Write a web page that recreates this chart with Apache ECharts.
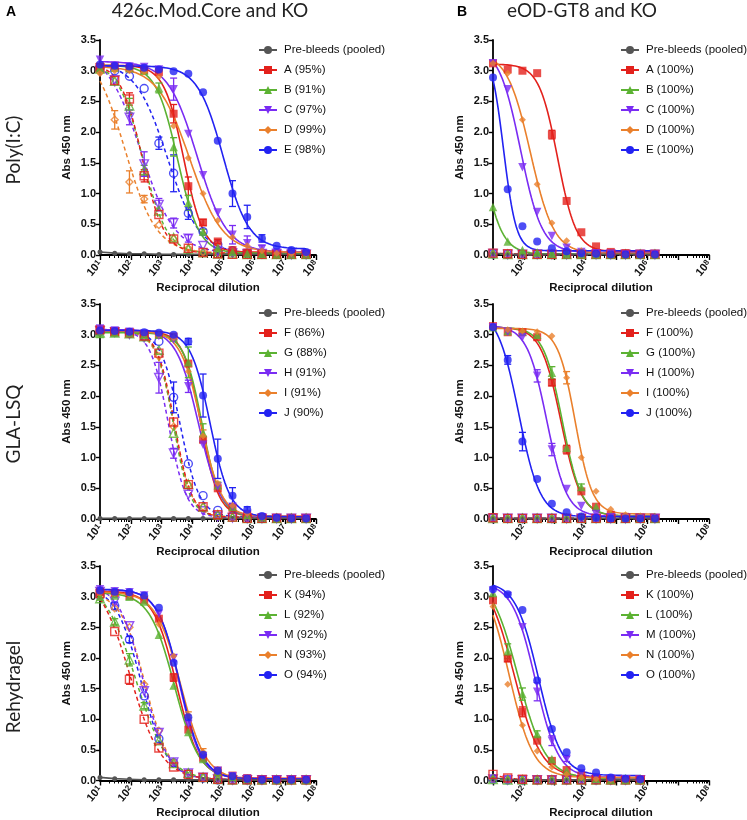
<!DOCTYPE html>
<html><head><meta charset="utf-8">
<script src="https://cdn.jsdelivr.net/npm/echarts@6/dist/echarts.min.js"></script>
<style>html,body{margin:0;padding:0;background:#fff}#c{width:747px;height:820px}</style>
</head><body><div id="c"></div>
<script>
// ---------------- DATA ----------------
const dilutions = [10,30,90,270,810,2430,7290,21870,65610,196830,590490,1771470,5314410,15943230,47829690];
const preName = 'Pre-bleeds (pooled)';
const xExpLeft = [1,2,3,4,5,6,7,8];
const xExpRight = [2,4,6,8];
const yTicks = [0,0.5,1,1.5,2,2.5,3,3.5];

// Panel 1: Poly(I:C), 426c.Mod.Core and KO
const polyCoreNames = ['A (95%)','B (91%)','C (97%)','D (99%)','E (98%)'];
const polyCorePre = [0.05,0.03,0.02,0.02,0.01,0.01,0.01,0.01,0.01,0.01,0.01,0.01,0.01,0.01,0.01];
const polyCoreA = [3.07,3.07,3.04,3.01,2.98,2.30,1.12,0.53,0.22,0.08,0.04,0.02,0.01,0.01,0.01];
const polyCoreB = [3.05,3.05,3.04,3.00,2.72,1.76,0.85,0.38,0.12,0.05,0.02,0.02,0.01,0.01,0.01];
const polyCoreC = [3.18,3.08,3.07,3.06,3.02,2.70,1.97,1.30,0.69,0.33,0.19,0.10,0.04,0.02,0.02];
const polyCoreD = [2.96,3.00,3.00,2.98,2.90,2.10,1.58,1.00,0.56,0.29,0.15,0.07,0.03,0.02,0.02];
const polyCoreE = [3.10,3.08,3.07,3.05,3.02,2.99,2.95,2.65,1.86,1.00,0.62,0.27,0.15,0.08,0.05];
const polyCoreAKO = [3.05,2.84,2.54,1.29,0.66,0.26,0.11,0.04,0.02,0.01,0.01,0.01,0.01,0.01,0.01];
const polyCoreBKO = [3.03,2.83,2.43,1.38,0.72,0.28,0.10,0.04,0.02,0.02,0.01,0.01,0.01,0.01,0.01];
const polyCoreCKO = [3.00,2.85,2.24,1.48,0.82,0.52,0.27,0.15,0.06,0.03,0.02,0.02,0.02,0.01,0.01];
const polyCoreDKO = [2.97,2.20,1.19,0.91,0.49,0.26,0.11,0.05,0.03,0.02,0.02,0.01,0.01,0.01,0.01];
const polyCoreEKO = [3.05,3.00,2.91,2.71,1.82,1.33,0.68,0.38,0.17,0.07,0.03,0.02,0.02,0.01,0.01];
const polyCoreErrA = [0,0,0,0,0,0.15,0.15,0.05,0.03,0,0,0,0,0,0];
const polyCoreErrB = [0,0,0,0,0.08,0.15,0.12,0.04,0,0,0,0,0,0,0];
const polyCoreErrC = [0,0,0,0,0,0.18,0,0,0,0.15,0.12,0.06,0,0,0];
const polyCoreErrE = [0,0,0,0,0,0,0,0,0,0.21,0.19,0.06,0,0,0];
const polyCoreErrAKO = [0,0,0.1,0.1,0,0,0,0,0,0,0,0,0,0,0];
const polyCoreErrBKO = [0,0,0.12,0.08,0,0,0,0,0,0,0,0,0,0,0];
const polyCoreErrCKO = [0,0,0.12,0.2,0.1,0.08,0.06,0,0,0,0,0,0,0,0];
const polyCoreErrDKO = [0,0.15,0.18,0.06,0,0,0,0,0,0,0,0,0,0,0];
const polyCoreErrEKO = [0,0,0,0,0.1,0.3,0.1,0,0,0,0,0,0,0,0];

// Panel 2: Poly(I:C), eOD-GT8 and KO
const polyGT8Names = ['A (100%)','B (100%)','C (100%)','D (100%)','E (100%)'];
const polyGT8Pre = [0.03,0.01,0.01,0.01,0.01,0.01,0.01,0.01,0.01,0.01,0.01,0.01];
const polyGT8A = [3.12,3.02,3.00,2.96,1.96,0.88,0.37,0.14,0.05,0.03,0.02,0.02];
const polyGT8B = [0.78,0.22,0.08,0.04,0.02,0.01,0.01,0.01,0.01,0.01,0.01,0.01];
const polyGT8C = [3.12,2.70,1.43,0.70,0.31,0.12,0.05,0.03,0.02,0.01,0.01,0.01];
const polyGT8D = [3.12,2.96,2.20,1.15,0.52,0.23,0.07,0.03,0.02,0.01,0.01,0.01];
const polyGT8E = [2.89,1.07,0.47,0.22,0.11,0.06,0.03,0.02,0.01,0.01,0.01,0.01];
const polyGT8AKO = [0.03,0.02,0.01,0.01,0.01,0.01,0.01,0.01,0.01,0.01,0.01,0.01];
const polyGT8BKO = [0.02,0.01,0.01,0.01,0.01,0.01,0.01,0.01,0.01,0.01,0.01,0.01];
const polyGT8CKO = [0.02,0.01,0.01,0.01,0.01,0.01,0.01,0.01,0.01,0.01,0.01,0.01];
const polyGT8DKO = [0.02,0.01,0.01,0.01,0.01,0.01,0.01,0.01,0.01,0.01,0.01,0.01];
const polyGT8EKO = [0.02,0.01,0.01,0.01,0.01,0.01,0.01,0.01,0.01,0.01,0.01,0.01];
const polyGT8ErrA = [0,0,0,0,0.07,0,0,0,0,0,0,0];

// Panel 3: GLA-LSQ, 426c.Mod.Core and KO
const glaCoreNames = ['F (86%)','G (88%)','H (91%)','I (91%)','J (90%)'];
const glaCorePre = [0.01,0.01,0.01,0.01,0.01,0.01,0.01,0.01,0.01,0.01,0.01,0.01,0.01,0.01,0.01];
const glaCoreF = [3.08,3.05,3.04,3.01,3.00,2.97,2.53,1.29,0.50,0.18,0.07,0.03,0.02,0.01,0.01];
const glaCoreG = [3.01,3.03,3.03,3.00,3.00,2.95,2.55,1.40,0.55,0.20,0.07,0.03,0.01,0.01,0.01];
const glaCoreH = [3.10,3.07,3.05,3.02,2.98,2.92,2.16,1.21,0.53,0.20,0.08,0.03,0.01,0.01,0.01];
const glaCoreI = [3.05,3.05,3.04,3.02,3.00,2.95,2.40,1.35,0.58,0.22,0.09,0.04,0.02,0.02,0.02];
const glaCoreJ = [3.07,3.06,3.05,3.04,3.03,3.00,2.89,2.01,0.98,0.38,0.15,0.05,0.02,0.01,0.01];
const glaCoreFKO = [3.08,3.05,3.03,2.98,2.70,1.58,0.56,0.20,0.07,0.03,0.01,0.01,0.01,0.01,0.01];
const glaCoreGKO = [3.03,3.03,3.02,2.97,2.75,1.40,0.57,0.20,0.07,0.03,0.01,0.01,0.01,0.01,0.01];
const glaCoreHKO = [3.06,3.04,3.01,2.95,2.30,1.07,0.40,0.13,0.04,0.02,0.01,0.01,0.01,0.01,0.01];
const glaCoreIKO = [3.05,3.04,3.02,2.96,2.65,1.50,0.56,0.20,0.07,0.03,0.01,0.01,0.01,0.01,0.01];
const glaCoreJKO = [3.05,3.04,3.02,2.97,2.89,1.98,0.90,0.38,0.14,0.05,0.02,0.01,0.01,0.01,0.01];
const glaCoreErrG = [0,0,0,0,0,0,0.25,0.15,0.05,0,0,0,0,0,0];
const glaCoreErrH = [0,0,0,0,0,0,0.1,0,0,0,0,0,0,0,0];
const glaCoreErrI = [0,0,0,0,0,0,0,0.1,0,0,0,0,0,0,0];
const glaCoreErrJ = [0,0,0,0,0,0,0.05,0.35,0.32,0.13,0.05,0,0,0,0];
const glaCoreErrHKO = [0,0,0,0,0.25,0.08,0,0,0,0,0,0,0,0,0];
const glaCoreErrJKO = [0,0,0,0,0,0.25,0,0,0,0,0,0,0,0,0];

// Panel 4: GLA-LSQ, eOD-GT8 and KO
const glaGT8Names = ['F (100%)','G (100%)','H (100%)','I (100%)','J (100%)'];
const glaGT8Pre = [0.01,0.01,0.01,0.01,0.01,0.01,0.01,0.01,0.01,0.01,0.01,0.01];
const glaGT8F = [3.14,3.04,3.04,2.96,2.22,1.13,0.45,0.20,0.07,0.03,0.02,0.01];
const glaGT8G = [3.12,3.06,3.05,3.00,2.38,1.16,0.52,0.20,0.07,0.03,0.02,0.01];
const glaGT8H = [3.12,3.05,2.96,2.33,1.13,0.49,0.21,0.08,0.03,0.02,0.01,0.01];
const glaGT8I = [3.12,3.08,3.06,3.05,2.98,2.30,1.00,0.45,0.16,0.07,0.05,0.03];
const glaGT8J = [3.12,2.59,1.26,0.65,0.25,0.11,0.04,0.02,0.01,0.01,0.01,0.01];
const glaGT8FKO = [0.02,0.01,0.01,0.01,0.01,0.01,0.01,0.01,0.01,0.01,0.01,0.01];
const glaGT8GKO = [0.01,0.01,0.01,0.01,0.01,0.01,0.01,0.01,0.01,0.01,0.01,0.01];
const glaGT8HKO = [0.01,0.01,0.01,0.01,0.01,0.01,0.01,0.01,0.01,0.01,0.01,0.01];
const glaGT8IKO = [0.01,0.01,0.01,0.01,0.01,0.01,0.01,0.01,0.01,0.01,0.01,0.01];
const glaGT8JKO = [0.02,0.01,0.01,0.01,0.01,0.01,0.01,0.01,0.01,0.01,0.01,0.01];
const glaGT8ErrF = [0,0,0,0,0.05,0.07,0,0,0,0,0,0];
const glaGT8ErrG = [0,0,0,0,0.1,0,0.05,0,0,0,0,0];
const glaGT8ErrH = [0,0,0,0.1,0.1,0,0,0,0,0,0,0];
const glaGT8ErrI = [0,0,0,0,0,0.1,0,0,0,0,0,0];
const glaGT8ErrJ = [0,0.07,0.15,0,0,0,0,0,0,0,0,0];

// Panel 5: Rehydragel, 426c.Mod.Core and KO
const rehyCoreNames = ['K (94%)','L (92%)','M (92%)','N (93%)','O (94%)'];
const rehyCorePre = [0.05,0.03,0.02,0.01,0.01,0.01,0.01,0.01,0.01,0.01,0.01,0.01,0.01,0.01,0.01];
const rehyCoreK = [3.08,3.06,3.01,2.95,2.64,1.68,0.83,0.37,0.16,0.08,0.04,0.02,0.01,0.01,0.01];
const rehyCoreL = [3.00,3.02,3.00,2.92,2.38,1.55,0.79,0.35,0.14,0.06,0.03,0.01,0.01,0.01,0.01];
const rehyCoreM = [3.12,3.09,3.07,3.02,2.72,2.00,0.92,0.40,0.16,0.07,0.03,0.01,0.01,0.01,0.01];
const rehyCoreN = [3.06,3.05,3.03,3.00,2.55,2.03,1.07,0.47,0.18,0.08,0.04,0.01,0.01,0.01,0.01];
const rehyCoreO = [3.10,3.08,3.07,3.02,2.82,1.92,1.03,0.42,0.16,0.07,0.03,0.01,0.01,0.01,0.01];
const rehyCoreKKO = [3.05,2.43,1.65,1.00,0.53,0.22,0.10,0.05,0.02,0.01,0.01,0.01,0.01,0.01,0.01];
const rehyCoreLKO = [2.97,2.59,1.97,1.22,0.65,0.28,0.12,0.05,0.02,0.01,0.01,0.01,0.01,0.01,0.01];
const rehyCoreMKO = [3.08,2.92,2.52,1.46,0.78,0.30,0.12,0.05,0.02,0.01,0.01,0.01,0.01,0.01,0.01];
const rehyCoreNKO = [3.00,2.81,2.50,1.57,0.81,0.30,0.12,0.05,0.02,0.01,0.01,0.01,0.01,0.01,0.01];
const rehyCoreOKO = [3.02,2.85,2.30,1.38,0.68,0.29,0.11,0.04,0.01,0.01,0.01,0.01,0.01,0.01,0.01];
const rehyCoreErrK = [0,0,0,0,0,0.06,0,0,0,0,0,0,0,0,0];
const rehyCoreErrM = [0,0,0,0,0,0.05,0,0,0,0,0,0,0,0,0];
const rehyCoreErrN = [0,0,0,0,0,0,0.05,0.05,0,0,0,0,0,0,0];
const rehyCoreErrKKO = [0,0,0.08,0,0,0,0,0,0,0,0,0,0,0,0];
const rehyCoreErrLKO = [0,0.05,0.1,0.05,0,0,0,0,0,0,0,0,0,0,0];
const rehyCoreErrOKO = [0,0.06,0.05,0,0,0,0,0,0,0,0,0,0,0,0];

// Panel 6: Rehydragel, eOD-GT8 and KO
const rehyGT8Names = ['K (100%)','L (100%)','M (100%)','N (100%)','O (100%)'];
const rehyGT8Pre = [0.04,0.02,0.01,0.01,0.01,0.01,0.01,0.01,0.01,0.01,0.01];
const rehyGT8K = [2.94,1.99,1.12,0.65,0.32,0.17,0.08,0.04,0.02,0.01,0.01];
const rehyGT8L = [3.06,2.11,1.41,0.76,0.35,0.16,0.07,0.03,0.01,0.01,0.01];
const rehyGT8M = [3.10,3.01,2.50,1.45,0.65,0.35,0.12,0.05,0.03,0.02,0.01];
const rehyGT8N = [2.84,1.57,0.90,0.48,0.22,0.10,0.05,0.03,0.01,0.01,0.01];
const rehyGT8O = [3.12,3.04,2.78,1.63,0.84,0.46,0.20,0.13,0.05,0.03,0.02];
const rehyGT8KKO = [0.10,0.04,0.02,0.01,0.01,0.01,0.01,0.01,0.01,0.01,0.01];
const rehyGT8LKO = [0.02,0.01,0.01,0.01,0.01,0.01,0.01,0.01,0.01,0.01,0.01];
const rehyGT8MKO = [0.02,0.01,0.01,0.01,0.01,0.01,0.01,0.01,0.01,0.01,0.01];
const rehyGT8NKO = [0.02,0.01,0.01,0.01,0.01,0.01,0.01,0.01,0.01,0.01,0.01];
const rehyGT8OKO = [0.02,0.01,0.01,0.01,0.01,0.01,0.01,0.01,0.01,0.01,0.01];
const rehyGT8ErrK = [0,0.05,0.08,0,0,0,0,0,0,0,0,0];
const rehyGT8ErrL = [0,0.12,0.1,0.05,0,0,0,0,0,0,0,0];
const rehyGT8ErrM = [0,0,0,0.15,0.08,0.04,0,0,0,0,0,0];

// ---------------- STYLE / LAYOUT ----------------
const colors = ['#E3211C','#5CB233','#7A2CF3','#EA802C','#2222F2'];
const grey = '#555555';
const symbols = ['rect','triangle','path://M0,0L10,0L5,10Z','diamond','circle'];
const symSizes = [8,8.5,8.5,7,8];
const FONT = 'Liberation Sans, Arial, Helvetica, sans-serif';

const panels = [
  {left:100, top:40, height:215, legLeft:258, legTop:43, exps:xExpLeft,
   names:polyCoreNames, pre:polyCorePre, solid:[polyCoreA,polyCoreB,polyCoreC,polyCoreD,polyCoreE],
   ko:[polyCoreAKO,polyCoreBKO,polyCoreCKO,polyCoreDKO,polyCoreEKO],
   err:[polyCoreErrA,polyCoreErrB,polyCoreErrC,null,polyCoreErrE],
   errKO:[polyCoreErrAKO,polyCoreErrBKO,polyCoreErrCKO,polyCoreErrDKO,polyCoreErrEKO]},
  {left:493, top:40, height:215, legLeft:620, legTop:43, exps:xExpRight,
   names:polyGT8Names, pre:polyGT8Pre, solid:[polyGT8A,polyGT8B,polyGT8C,polyGT8D,polyGT8E],
   ko:[polyGT8AKO,polyGT8BKO,polyGT8CKO,polyGT8DKO,polyGT8EKO],
   err:[polyGT8ErrA,null,null,null,null], errKO:[null,null,null,null,null]},
  {left:100, top:304, height:215, legLeft:258, legTop:306, exps:xExpLeft,
   names:glaCoreNames, pre:glaCorePre, solid:[glaCoreF,glaCoreG,glaCoreH,glaCoreI,glaCoreJ],
   ko:[glaCoreFKO,glaCoreGKO,glaCoreHKO,glaCoreIKO,glaCoreJKO],
   err:[null,glaCoreErrG,glaCoreErrH,glaCoreErrI,glaCoreErrJ],
   errKO:[null,null,glaCoreErrHKO,null,glaCoreErrJKO]},
  {left:493, top:304, height:215, legLeft:620, legTop:306, exps:xExpRight,
   names:glaGT8Names, pre:glaGT8Pre, solid:[glaGT8F,glaGT8G,glaGT8H,glaGT8I,glaGT8J],
   ko:[glaGT8FKO,glaGT8GKO,glaGT8HKO,glaGT8IKO,glaGT8JKO],
   err:[glaGT8ErrF,glaGT8ErrG,glaGT8ErrH,glaGT8ErrI,glaGT8ErrJ], errKO:[null,null,null,null,null]},
  {left:100, top:566, height:216, legLeft:258, legTop:568, exps:xExpLeft,
   names:rehyCoreNames, pre:rehyCorePre, solid:[rehyCoreK,rehyCoreL,rehyCoreM,rehyCoreN,rehyCoreO],
   ko:[rehyCoreKKO,rehyCoreLKO,rehyCoreMKO,rehyCoreNKO,rehyCoreOKO],
   err:[rehyCoreErrK,null,rehyCoreErrM,rehyCoreErrN,null],
   errKO:[rehyCoreErrKKO,rehyCoreErrLKO,null,null,rehyCoreErrOKO]},
  {left:493, top:566, height:216, legLeft:620, legTop:568, exps:xExpRight,
   names:rehyGT8Names, pre:rehyGT8Pre, solid:[rehyGT8K,rehyGT8L,rehyGT8M,rehyGT8N,rehyGT8O],
   ko:[rehyGT8KKO,rehyGT8LKO,rehyGT8MKO,rehyGT8NKO,rehyGT8OKO],
   err:[rehyGT8ErrK,rehyGT8ErrL,rehyGT8ErrM,null,null], errKO:[null,null,null,null,null]}
];

// 4-parameter logistic least-squares fit of the read points (log10 dilution)
function fit4PL(xs, ys) {
  function solve(c, h) {
    let s00=0,s01=0,s11=0,r0=0,r1=0; const fs=[];
    for (let i=0;i<xs.length;i++){
      const f=1/(1+Math.pow(10,(xs[i]-c)*h)), g=1-f; fs.push(f);
      s00+=g*g; s01+=g*f; s11+=f*f; r0+=g*ys[i]; r1+=f*ys[i];
    }
    const det=s00*s11-s01*s01; if (Math.abs(det)<1e-10) return null;
    const b=(r0*s11-r1*s01)/det, t=(s00*r1-s01*r0)/det;
    if (t>3.4 || b<-0.1 || b>t) return null;
    let sse=0; for (let i=0;i<xs.length;i++){const e=b+(t-b)*fs[i]-ys[i]; sse+=e*e;}
    return {b,t,c,h,sse};
  }
  let best=null;
  const x0=xs[0], x1=xs[xs.length-1];
  for (let c=x0-2;c<=x1+1;c+=0.04) for (let h=0.4;h<=4;h+=0.05){const r=solve(c,h); if(r&&(!best||r.sse<best.sse)) best=r;}
  if (!best) return null;
  const c0=best.c,h0=best.h;
  for (let c=c0-0.05;c<=c0+0.05;c+=0.004) for (let h=Math.max(0.2,h0-0.06);h<=h0+0.06;h+=0.004){const r=solve(c,h); if(r&&r.sse<best.sse) best=r;}
  return best;
}
function curveData(xs, ys) {
  const p = fit4PL(xs, ys);
  if (!p || p.t - p.b < 0.15) return xs.map((x,i)=>[x,ys[i]]);
  const out=[]; const x0=xs[0], x1=xs[xs.length-1];
  for (let k=0;k<=160;k++){const x=x0+(x1-x0)*k/160; out.push([x, p.b+(p.t-p.b)/(1+Math.pow(10,(x-p.c)*p.h))]);}
  return out;
}

const grids=[], xAxes=[], yAxes=[], series=[], legends=[];
function minorTicks(){const v=[];for(let e=1;e<8;e++)for(let k=2;k<=9;k++)v.push(e+Math.log10(k));return v;}

panels.forEach((P, pi) => {
  grids.push({left:P.left, top:P.top, width:216, height:P.height, containLabel:false});
  const xi = pi*2;
  xAxes.push({type:'value', gridIndex:pi, position:'bottom', min:1, max:8,
    axisLine:{show:true, onZero:false, lineStyle:{color:'#000', width:1.8}},
    axisTick:{show:true, length:5, lineStyle:{color:'#000', width:1.4}, customValues:xExpLeft},
    splitLine:{show:false},
    axisLabel:{show:true, rotate:50, margin:7, customValues:P.exps,
      formatter:v=>'{b|10}{s|'+Math.round(v)+'}',
      rich:{b:{fontSize:11, fontWeight:'bold', fontFamily:FONT, color:'#111'},
            s:{fontSize:8, fontWeight:'bold', fontFamily:FONT, color:'#111', verticalAlign:'top', lineHeight:8}}},
    name:'Reciprocal dilution', nameLocation:'middle', nameGap:25,
    nameTextStyle:{fontSize:11.5, fontWeight:'bold', fontFamily:FONT, color:'#111'}});
  xAxes.push({type:'value', gridIndex:pi, position:'bottom', min:1, max:8,
    axisLine:{show:false}, axisLabel:{show:false}, splitLine:{show:false},
    axisTick:{show:true, length:3, lineStyle:{color:'#000', width:1}, customValues:minorTicks()}});
  yAxes.push({type:'value', gridIndex:pi, min:0, max:3.5, interval:0.5,
    axisLine:{show:true, lineStyle:{color:'#000', width:1.8}},
    axisTick:{show:true, length:4, lineStyle:{color:'#000', width:1.4}},
    splitLine:{show:false},
    axisLabel:{fontSize:11, fontWeight:'bold', fontFamily:FONT, color:'#111', margin:4, formatter:v=>v.toFixed(1)},
    name:'Abs 450 nm', nameLocation:'middle', nameGap:27,
    nameTextStyle:{fontSize:11.5, fontWeight:'bold', fontFamily:FONT, color:'#111'}});

  const n = P.pre.length;
  const xs = dilutions.slice(0,n).map(d=>Math.log10(d));
  const common = {xAxisIndex:xi, yAxisIndex:pi, animation:false, silent:true};
  const rev = [4,3,2,1,0]; // draw A/F/K last so it sits on top, as in the reference

  // KO fitted curves (dashed)
  rev.forEach(i=>{
    const ys=P.ko[i];
    series.push(Object.assign({type:'line', name:P.names[i]+' KO', data:curveData(xs,ys), showSymbol:false, symbol:'none',
      lineStyle:{color:colors[i], width:1.5, type:[4,3]}, itemStyle:{color:colors[i]}, z:2}, common));
  });
  // solid fitted curves (legend entries)
  P.solid.forEach((ys,i)=>{
    series.push(Object.assign({type:'line', name:P.names[i], data:curveData(xs,ys), showSymbol:false,
      symbol:symbols[i], symbolSize:symSizes[i],
      lineStyle:{color:colors[i], width:1.6}, itemStyle:{color:colors[i]}, z:3}, common));
  });
  // pre-bleeds
  series.push(Object.assign({type:'line', name:preName, data:xs.map((x,k)=>[x,P.pre[k]]),
    symbol:'circle', symbolSize:5, showSymbol:true,
    lineStyle:{color:grey, width:1.6}, itemStyle:{color:grey}, z:4}, common));
  // error bars
  function errSeries(ys, errs, color){
    if (!errs) return;
    const d=[]; errs.forEach((e,k)=>{ if(e>0) d.push([xs[k], ys[k], e]); });
    series.push(Object.assign({type:'custom', data:d, z:5,
      renderItem:(params, api)=>{
        const x=api.value(0), y=api.value(1), e=api.value(2);
        const a=api.coord([x,y+e]), b=api.coord([x,Math.max(0,y-e)]); const w=3.5;
        const st={stroke:color, lineWidth:1.3};
        return {type:'group', children:[
          {type:'line', shape:{x1:a[0],y1:a[1],x2:b[0],y2:b[1]}, style:st},
          {type:'line', shape:{x1:a[0]-w,y1:a[1],x2:a[0]+w,y2:a[1]}, style:st},
          {type:'line', shape:{x1:b[0]-w,y1:b[1],x2:b[0]+w,y2:b[1]}, style:st}]};
      }}, common));
  }
  P.ko.forEach((ys,i)=>errSeries(ys, P.errKO[i], colors[i]));
  P.solid.forEach((ys,i)=>errSeries(ys, P.err[i], colors[i]));
  // KO points (open markers)
  rev.forEach(i=>{
    const ys=P.ko[i];
    series.push(Object.assign({type:'scatter', name:P.names[i]+' KO pts', data:xs.map((x,k)=>[x,ys[k]]),
      symbol:symbols[i], symbolSize:symSizes[i],
      itemStyle:{color:'rgba(255,255,255,0)', borderColor:colors[i], borderWidth:1.4}, z:6}, common));
  });
  // solid points
  P.solid.forEach((ys,i)=>{
    series.push(Object.assign({type:'scatter', name:P.names[i]+' pts', data:xs.map((x,k)=>[x,ys[k]]),
      symbol:symbols[i], symbolSize:symSizes[i], itemStyle:{color:colors[i]}, z:7}, common));
  });

  legends.push({orient:'vertical', left:P.legLeft, top:P.legTop, padding:0, itemWidth:18, itemHeight:10, itemGap:6,
    selectedMode:false, data:[preName].concat(P.names),
    textStyle:{fontSize:11.5, fontFamily:FONT, color:'#111', lineHeight:14, padding:[0,0,0,2]}});
});

const TITLE_FONT = '19px Lato, "Open Sans", sans-serif';
const option = {
  animation:false,
  backgroundColor:'#fff',
  grid:grids, xAxis:xAxes, yAxis:yAxes, series:series, legend:legends,
  graphic:[
    {type:'text', left:6, top:5, style:{text:'A', font:'bold 14px '+FONT, fill:'#000'}},
    {type:'text', x:210, y:11, style:{text:'426c.Mod.Core and KO', font:TITLE_FONT, fill:'#222', align:'center', verticalAlign:'middle'}},
    {type:'text', left:457, top:5, style:{text:'B', font:'bold 14px '+FONT, fill:'#000'}},
    {type:'text', x:582, y:11, style:{text:'eOD-GT8 and KO', font:TITLE_FONT, fill:'#222', align:'center', verticalAlign:'middle'}},
    {type:'text', x:14, y:150, rotation:Math.PI/2, style:{text:'Poly(I:C)', font:TITLE_FONT, fill:'#222', align:'center', verticalAlign:'middle'}},
    {type:'text', x:14, y:424, rotation:Math.PI/2, style:{text:'GLA-LSQ', font:TITLE_FONT, fill:'#222', align:'center', verticalAlign:'middle'}},
    {type:'text', x:14, y:687, rotation:Math.PI/2, style:{text:'Rehydragel', font:TITLE_FONT, fill:'#222', align:'center', verticalAlign:'middle'}}
  ]
};
const chart = echarts.init(document.getElementById('c'), null, {renderer:'canvas'});
chart.setOption(option);
</script></body></html>
